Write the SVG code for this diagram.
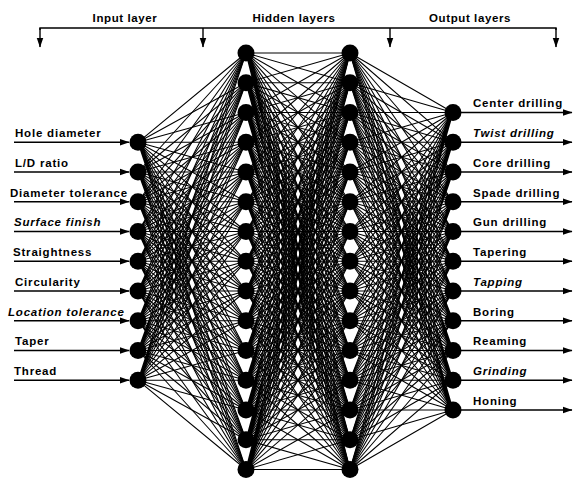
<svg xmlns="http://www.w3.org/2000/svg" width="575" height="479" viewBox="0 0 575 479">
<defs>
<marker id="ah" markerWidth="10" markerHeight="8" refX="9.5" refY="4" orient="auto" markerUnits="userSpaceOnUse"><path d="M0 0.6L10 4L0 7.4z" fill="#000"/></marker>
<style>
.c{fill:none;stroke:#000;stroke-width:1.1;stroke-linejoin:round}
.n{fill:#000}
.a{fill:none;stroke:#000;stroke-width:1.4;marker-end:url(#ah)}
.t{font-family:"Liberation Sans",Arial,sans-serif;font-weight:bold;font-size:11.5px;letter-spacing:0.8px;fill:#000}
.h{font-family:"Liberation Sans",Arial,sans-serif;font-weight:bold;font-size:11.5px;letter-spacing:0.6px;fill:#000;text-anchor:middle}
.i{font-style:italic}
</style>
</defs>
<rect width="575" height="479" fill="#fff"/>
<g id="header">
<path d="M40 30V28H556V30" fill="none" stroke="#000" stroke-width="1.4"/>
<path class="a" d="M40 28V47"/>
<path class="a" d="M203 28V47"/>
<path class="a" d="M390 28V47"/>
<path class="a" d="M556 28V47"/>
<text class="h" x="125" y="22">Input layer</text>
<text class="h" x="294" y="22">Hidden layers</text>
<text class="h" x="470" y="22">Output layers</text>
</g>
<g id="connectors">
<path class="c" d="M246 53L138 142.3 246 82.8 138 142.3 246 112.5 138 142.3 246 142.3 138 142.3 246 172 138 142.3 246 201.8 138 142.3 246 231.5 138 142.3 246 261.3 138 142.3 246 291 138 142.3 246 320.8 138 142.3 246 350.5 138 142.3 246 380.3 138 142.3 246 410 138 142.3 246 439.8 138 142.3 246 469.5"/>
<path class="c" d="M246 53L138 172 246 82.8 138 172 246 112.5 138 172 246 142.3 138 172 246 172 138 172 246 201.8 138 172 246 231.5 138 172 246 261.3 138 172 246 291 138 172 246 320.8 138 172 246 350.5 138 172 246 380.3 138 172 246 410 138 172 246 439.8 138 172 246 469.5"/>
<path class="c" d="M246 53L138 201.8 246 82.8 138 201.8 246 112.5 138 201.8 246 142.3 138 201.8 246 172 138 201.8 246 201.8 138 201.8 246 231.5 138 201.8 246 261.3 138 201.8 246 291 138 201.8 246 320.8 138 201.8 246 350.5 138 201.8 246 380.3 138 201.8 246 410 138 201.8 246 439.8 138 201.8 246 469.5"/>
<path class="c" d="M246 53L138 231.5 246 82.8 138 231.5 246 112.5 138 231.5 246 142.3 138 231.5 246 172 138 231.5 246 201.8 138 231.5 246 231.5 138 231.5 246 261.3 138 231.5 246 291 138 231.5 246 320.8 138 231.5 246 350.5 138 231.5 246 380.3 138 231.5 246 410 138 231.5 246 439.8 138 231.5 246 469.5"/>
<path class="c" d="M246 53L138 261.3 246 82.8 138 261.3 246 112.5 138 261.3 246 142.3 138 261.3 246 172 138 261.3 246 201.8 138 261.3 246 231.5 138 261.3 246 261.3 138 261.3 246 291 138 261.3 246 320.8 138 261.3 246 350.5 138 261.3 246 380.3 138 261.3 246 410 138 261.3 246 439.8 138 261.3 246 469.5"/>
<path class="c" d="M246 53L138 291 246 82.8 138 291 246 112.5 138 291 246 142.3 138 291 246 172 138 291 246 201.8 138 291 246 231.5 138 291 246 261.3 138 291 246 291 138 291 246 320.8 138 291 246 350.5 138 291 246 380.3 138 291 246 410 138 291 246 439.8 138 291 246 469.5"/>
<path class="c" d="M246 53L138 320.8 246 82.8 138 320.8 246 112.5 138 320.8 246 142.3 138 320.8 246 172 138 320.8 246 201.8 138 320.8 246 231.5 138 320.8 246 261.3 138 320.8 246 291 138 320.8 246 320.8 138 320.8 246 350.5 138 320.8 246 380.3 138 320.8 246 410 138 320.8 246 439.8 138 320.8 246 469.5"/>
<path class="c" d="M246 53L138 350.5 246 82.8 138 350.5 246 112.5 138 350.5 246 142.3 138 350.5 246 172 138 350.5 246 201.8 138 350.5 246 231.5 138 350.5 246 261.3 138 350.5 246 291 138 350.5 246 320.8 138 350.5 246 350.5 138 350.5 246 380.3 138 350.5 246 410 138 350.5 246 439.8 138 350.5 246 469.5"/>
<path class="c" d="M246 53L138 380.3 246 82.8 138 380.3 246 112.5 138 380.3 246 142.3 138 380.3 246 172 138 380.3 246 201.8 138 380.3 246 231.5 138 380.3 246 261.3 138 380.3 246 291 138 380.3 246 320.8 138 380.3 246 350.5 138 380.3 246 380.3 138 380.3 246 410 138 380.3 246 439.8 138 380.3 246 469.5"/>

<path class="c" d="M350 53L246 53 350 82.8 246 53 350 112.5 246 53 350 142.3 246 53 350 172 246 53 350 201.8 246 53 350 231.5 246 53 350 261.3 246 53 350 291 246 53 350 320.8 246 53 350 350.5 246 53 350 380.3 246 53 350 410 246 53 350 439.8 246 53 350 469.5"/>
<path class="c" d="M350 53L246 82.8 350 82.8 246 82.8 350 112.5 246 82.8 350 142.3 246 82.8 350 172 246 82.8 350 201.8 246 82.8 350 231.5 246 82.8 350 261.3 246 82.8 350 291 246 82.8 350 320.8 246 82.8 350 350.5 246 82.8 350 380.3 246 82.8 350 410 246 82.8 350 439.8 246 82.8 350 469.5"/>
<path class="c" d="M350 53L246 112.5 350 82.8 246 112.5 350 112.5 246 112.5 350 142.3 246 112.5 350 172 246 112.5 350 201.8 246 112.5 350 231.5 246 112.5 350 261.3 246 112.5 350 291 246 112.5 350 320.8 246 112.5 350 350.5 246 112.5 350 380.3 246 112.5 350 410 246 112.5 350 439.8 246 112.5 350 469.5"/>
<path class="c" d="M350 53L246 142.3 350 82.8 246 142.3 350 112.5 246 142.3 350 142.3 246 142.3 350 172 246 142.3 350 201.8 246 142.3 350 231.5 246 142.3 350 261.3 246 142.3 350 291 246 142.3 350 320.8 246 142.3 350 350.5 246 142.3 350 380.3 246 142.3 350 410 246 142.3 350 439.8 246 142.3 350 469.5"/>
<path class="c" d="M350 53L246 172 350 82.8 246 172 350 112.5 246 172 350 142.3 246 172 350 172 246 172 350 201.8 246 172 350 231.5 246 172 350 261.3 246 172 350 291 246 172 350 320.8 246 172 350 350.5 246 172 350 380.3 246 172 350 410 246 172 350 439.8 246 172 350 469.5"/>
<path class="c" d="M350 53L246 201.8 350 82.8 246 201.8 350 112.5 246 201.8 350 142.3 246 201.8 350 172 246 201.8 350 201.8 246 201.8 350 231.5 246 201.8 350 261.3 246 201.8 350 291 246 201.8 350 320.8 246 201.8 350 350.5 246 201.8 350 380.3 246 201.8 350 410 246 201.8 350 439.8 246 201.8 350 469.5"/>
<path class="c" d="M350 53L246 231.5 350 82.8 246 231.5 350 112.5 246 231.5 350 142.3 246 231.5 350 172 246 231.5 350 201.8 246 231.5 350 231.5 246 231.5 350 261.3 246 231.5 350 291 246 231.5 350 320.8 246 231.5 350 350.5 246 231.5 350 380.3 246 231.5 350 410 246 231.5 350 439.8 246 231.5 350 469.5"/>
<path class="c" d="M350 53L246 261.3 350 82.8 246 261.3 350 112.5 246 261.3 350 142.3 246 261.3 350 172 246 261.3 350 201.8 246 261.3 350 231.5 246 261.3 350 261.3 246 261.3 350 291 246 261.3 350 320.8 246 261.3 350 350.5 246 261.3 350 380.3 246 261.3 350 410 246 261.3 350 439.8 246 261.3 350 469.5"/>
<path class="c" d="M350 53L246 291 350 82.8 246 291 350 112.5 246 291 350 142.3 246 291 350 172 246 291 350 201.8 246 291 350 231.5 246 291 350 261.3 246 291 350 291 246 291 350 320.8 246 291 350 350.5 246 291 350 380.3 246 291 350 410 246 291 350 439.8 246 291 350 469.5"/>
<path class="c" d="M350 53L246 320.8 350 82.8 246 320.8 350 112.5 246 320.8 350 142.3 246 320.8 350 172 246 320.8 350 201.8 246 320.8 350 231.5 246 320.8 350 261.3 246 320.8 350 291 246 320.8 350 320.8 246 320.8 350 350.5 246 320.8 350 380.3 246 320.8 350 410 246 320.8 350 439.8 246 320.8 350 469.5"/>
<path class="c" d="M350 53L246 350.5 350 82.8 246 350.5 350 112.5 246 350.5 350 142.3 246 350.5 350 172 246 350.5 350 201.8 246 350.5 350 231.5 246 350.5 350 261.3 246 350.5 350 291 246 350.5 350 320.8 246 350.5 350 350.5 246 350.5 350 380.3 246 350.5 350 410 246 350.5 350 439.8 246 350.5 350 469.5"/>
<path class="c" d="M350 53L246 380.3 350 82.8 246 380.3 350 112.5 246 380.3 350 142.3 246 380.3 350 172 246 380.3 350 201.8 246 380.3 350 231.5 246 380.3 350 261.3 246 380.3 350 291 246 380.3 350 320.8 246 380.3 350 350.5 246 380.3 350 380.3 246 380.3 350 410 246 380.3 350 439.8 246 380.3 350 469.5"/>
<path class="c" d="M350 53L246 410 350 82.8 246 410 350 112.5 246 410 350 142.3 246 410 350 172 246 410 350 201.8 246 410 350 231.5 246 410 350 261.3 246 410 350 291 246 410 350 320.8 246 410 350 350.5 246 410 350 380.3 246 410 350 410 246 410 350 439.8 246 410 350 469.5"/>
<path class="c" d="M350 53L246 439.8 350 82.8 246 439.8 350 112.5 246 439.8 350 142.3 246 439.8 350 172 246 439.8 350 201.8 246 439.8 350 231.5 246 439.8 350 261.3 246 439.8 350 291 246 439.8 350 320.8 246 439.8 350 350.5 246 439.8 350 380.3 246 439.8 350 410 246 439.8 350 439.8 246 439.8 350 469.5"/>
<path class="c" d="M350 53L246 469.5 350 82.8 246 469.5 350 112.5 246 469.5 350 142.3 246 469.5 350 172 246 469.5 350 201.8 246 469.5 350 231.5 246 469.5 350 261.3 246 469.5 350 291 246 469.5 350 320.8 246 469.5 350 350.5 246 469.5 350 380.3 246 469.5 350 410 246 469.5 350 439.8 246 469.5 350 469.5"/>

<path class="c" d="M350 53L453 112.5 350 82.8 453 112.5 350 112.5 453 112.5 350 142.3 453 112.5 350 172 453 112.5 350 201.8 453 112.5 350 231.5 453 112.5 350 261.3 453 112.5 350 291 453 112.5 350 320.8 453 112.5 350 350.5 453 112.5 350 380.3 453 112.5 350 410 453 112.5 350 439.8 453 112.5 350 469.5"/>
<path class="c" d="M350 53L453 142.3 350 82.8 453 142.3 350 112.5 453 142.3 350 142.3 453 142.3 350 172 453 142.3 350 201.8 453 142.3 350 231.5 453 142.3 350 261.3 453 142.3 350 291 453 142.3 350 320.8 453 142.3 350 350.5 453 142.3 350 380.3 453 142.3 350 410 453 142.3 350 439.8 453 142.3 350 469.5"/>
<path class="c" d="M350 53L453 172 350 82.8 453 172 350 112.5 453 172 350 142.3 453 172 350 172 453 172 350 201.8 453 172 350 231.5 453 172 350 261.3 453 172 350 291 453 172 350 320.8 453 172 350 350.5 453 172 350 380.3 453 172 350 410 453 172 350 439.8 453 172 350 469.5"/>
<path class="c" d="M350 53L453 201.8 350 82.8 453 201.8 350 112.5 453 201.8 350 142.3 453 201.8 350 172 453 201.8 350 201.8 453 201.8 350 231.5 453 201.8 350 261.3 453 201.8 350 291 453 201.8 350 320.8 453 201.8 350 350.5 453 201.8 350 380.3 453 201.8 350 410 453 201.8 350 439.8 453 201.8 350 469.5"/>
<path class="c" d="M350 53L453 231.5 350 82.8 453 231.5 350 112.5 453 231.5 350 142.3 453 231.5 350 172 453 231.5 350 201.8 453 231.5 350 231.5 453 231.5 350 261.3 453 231.5 350 291 453 231.5 350 320.8 453 231.5 350 350.5 453 231.5 350 380.3 453 231.5 350 410 453 231.5 350 439.8 453 231.5 350 469.5"/>
<path class="c" d="M350 53L453 261.3 350 82.8 453 261.3 350 112.5 453 261.3 350 142.3 453 261.3 350 172 453 261.3 350 201.8 453 261.3 350 231.5 453 261.3 350 261.3 453 261.3 350 291 453 261.3 350 320.8 453 261.3 350 350.5 453 261.3 350 380.3 453 261.3 350 410 453 261.3 350 439.8 453 261.3 350 469.5"/>
<path class="c" d="M350 53L453 291 350 82.8 453 291 350 112.5 453 291 350 142.3 453 291 350 172 453 291 350 201.8 453 291 350 231.5 453 291 350 261.3 453 291 350 291 453 291 350 320.8 453 291 350 350.5 453 291 350 380.3 453 291 350 410 453 291 350 439.8 453 291 350 469.5"/>
<path class="c" d="M350 53L453 320.8 350 82.8 453 320.8 350 112.5 453 320.8 350 142.3 453 320.8 350 172 453 320.8 350 201.8 453 320.8 350 231.5 453 320.8 350 261.3 453 320.8 350 291 453 320.8 350 320.8 453 320.8 350 350.5 453 320.8 350 380.3 453 320.8 350 410 453 320.8 350 439.8 453 320.8 350 469.5"/>
<path class="c" d="M350 53L453 350.5 350 82.8 453 350.5 350 112.5 453 350.5 350 142.3 453 350.5 350 172 453 350.5 350 201.8 453 350.5 350 231.5 453 350.5 350 261.3 453 350.5 350 291 453 350.5 350 320.8 453 350.5 350 350.5 453 350.5 350 380.3 453 350.5 350 410 453 350.5 350 439.8 453 350.5 350 469.5"/>
<path class="c" d="M350 53L453 380.3 350 82.8 453 380.3 350 112.5 453 380.3 350 142.3 453 380.3 350 172 453 380.3 350 201.8 453 380.3 350 231.5 453 380.3 350 261.3 453 380.3 350 291 453 380.3 350 320.8 453 380.3 350 350.5 453 380.3 350 380.3 453 380.3 350 410 453 380.3 350 439.8 453 380.3 350 469.5"/>
<path class="c" d="M350 53L453 410 350 82.8 453 410 350 112.5 453 410 350 142.3 453 410 350 172 453 410 350 201.8 453 410 350 231.5 453 410 350 261.3 453 410 350 291 453 410 350 320.8 453 410 350 350.5 453 410 350 380.3 453 410 350 410 453 410 350 439.8 453 410 350 469.5"/>

<path class="a" d="M14 142.3H129"/>
<path class="a" d="M14 172H129"/>
<path class="a" d="M14 201.8H129"/>
<path class="a" d="M14 231.5H129"/>
<path class="a" d="M14 261.3H129"/>
<path class="a" d="M14 291H129"/>
<path class="a" d="M14 320.8H129"/>
<path class="a" d="M14 350.5H129"/>
<path class="a" d="M14 380.3H129"/>
<path class="a" d="M453 112.5H572"/>
<path class="a" d="M453 142.3H572"/>
<path class="a" d="M453 172H572"/>
<path class="a" d="M453 201.8H572"/>
<path class="a" d="M453 231.5H572"/>
<path class="a" d="M453 261.3H572"/>
<path class="a" d="M453 291H572"/>
<path class="a" d="M453 320.8H572"/>
<path class="a" d="M453 350.5H572"/>
<path class="a" d="M453 380.3H572"/>
<path class="a" d="M453 410H572"/>
</g>
<g id="in1"><circle class="n" cx="138" cy="142.3" r="8.5"/><text class="t" x="15" y="137">Hole diameter</text></g>
<g id="in2"><circle class="n" cx="138" cy="172" r="8.5"/><text class="t" x="15" y="166.5">L/D ratio</text></g>
<g id="in3"><circle class="n" cx="138" cy="201.8" r="8.5"/><text class="t" x="10" y="196.5">Diameter tolerance</text></g>
<g id="in4"><circle class="n" cx="138" cy="231.5" r="8.5"/><text class="t i" x="14" y="226">Surface finish</text></g>
<g id="in5"><circle class="n" cx="138" cy="261.3" r="8.5"/><text class="t" x="13" y="256">Straightness</text></g>
<g id="in6"><circle class="n" cx="138" cy="291" r="8.5"/><text class="t" x="15" y="285.5">Circularity</text></g>
<g id="in7"><circle class="n" cx="138" cy="320.8" r="8.5"/><text class="t i" x="8" y="315.5">Location tolerance</text></g>
<g id="in8"><circle class="n" cx="138" cy="350.5" r="8.5"/><text class="t" x="15" y="345">Taper</text></g>
<g id="in9"><circle class="n" cx="138" cy="380.3" r="8.5"/><text class="t" x="14" y="375">Thread</text></g>
<g id="h1n1"><circle class="n" cx="246" cy="53" r="8.5"/></g>
<g id="h1n2"><circle class="n" cx="246" cy="82.8" r="8.5"/></g>
<g id="h1n3"><circle class="n" cx="246" cy="112.5" r="8.5"/></g>
<g id="h1n4"><circle class="n" cx="246" cy="142.3" r="8.5"/></g>
<g id="h1n5"><circle class="n" cx="246" cy="172" r="8.5"/></g>
<g id="h1n6"><circle class="n" cx="246" cy="201.8" r="8.5"/></g>
<g id="h1n7"><circle class="n" cx="246" cy="231.5" r="8.5"/></g>
<g id="h1n8"><circle class="n" cx="246" cy="261.3" r="8.5"/></g>
<g id="h1n9"><circle class="n" cx="246" cy="291" r="8.5"/></g>
<g id="h1n10"><circle class="n" cx="246" cy="320.8" r="8.5"/></g>
<g id="h1n11"><circle class="n" cx="246" cy="350.5" r="8.5"/></g>
<g id="h1n12"><circle class="n" cx="246" cy="380.3" r="8.5"/></g>
<g id="h1n13"><circle class="n" cx="246" cy="410" r="8.5"/></g>
<g id="h1n14"><circle class="n" cx="246" cy="439.8" r="8.5"/></g>
<g id="h1n15"><circle class="n" cx="246" cy="469.5" r="8.5"/></g>
<g id="h2n1"><circle class="n" cx="350" cy="53" r="8.5"/></g>
<g id="h2n2"><circle class="n" cx="350" cy="82.8" r="8.5"/></g>
<g id="h2n3"><circle class="n" cx="350" cy="112.5" r="8.5"/></g>
<g id="h2n4"><circle class="n" cx="350" cy="142.3" r="8.5"/></g>
<g id="h2n5"><circle class="n" cx="350" cy="172" r="8.5"/></g>
<g id="h2n6"><circle class="n" cx="350" cy="201.8" r="8.5"/></g>
<g id="h2n7"><circle class="n" cx="350" cy="231.5" r="8.5"/></g>
<g id="h2n8"><circle class="n" cx="350" cy="261.3" r="8.5"/></g>
<g id="h2n9"><circle class="n" cx="350" cy="291" r="8.5"/></g>
<g id="h2n10"><circle class="n" cx="350" cy="320.8" r="8.5"/></g>
<g id="h2n11"><circle class="n" cx="350" cy="350.5" r="8.5"/></g>
<g id="h2n12"><circle class="n" cx="350" cy="380.3" r="8.5"/></g>
<g id="h2n13"><circle class="n" cx="350" cy="410" r="8.5"/></g>
<g id="h2n14"><circle class="n" cx="350" cy="439.8" r="8.5"/></g>
<g id="h2n15"><circle class="n" cx="350" cy="469.5" r="8.5"/></g>
<g id="out1"><circle class="n" cx="453" cy="112.5" r="8.5"/><text class="t" x="473" y="107">Center drilling</text></g>
<g id="out2"><circle class="n" cx="453" cy="142.3" r="8.5"/><text class="t i" x="473" y="137">Twist drilling</text></g>
<g id="out3"><circle class="n" cx="453" cy="172" r="8.5"/><text class="t" x="473" y="166.5">Core drilling</text></g>
<g id="out4"><circle class="n" cx="453" cy="201.8" r="8.5"/><text class="t" x="473" y="196.5">Spade drilling</text></g>
<g id="out5"><circle class="n" cx="453" cy="231.5" r="8.5"/><text class="t" x="473" y="226">Gun drilling</text></g>
<g id="out6"><circle class="n" cx="453" cy="261.3" r="8.5"/><text class="t" x="473" y="256">Tapering</text></g>
<g id="out7"><circle class="n" cx="453" cy="291" r="8.5"/><text class="t i" x="473" y="285.5">Tapping</text></g>
<g id="out8"><circle class="n" cx="453" cy="320.8" r="8.5"/><text class="t" x="473" y="315.5">Boring</text></g>
<g id="out9"><circle class="n" cx="453" cy="350.5" r="8.5"/><text class="t" x="473" y="345">Reaming</text></g>
<g id="out10"><circle class="n" cx="453" cy="380.3" r="8.5"/><text class="t i" x="473" y="375">Grinding</text></g>
<g id="out11"><circle class="n" cx="453" cy="410" r="8.5"/><text class="t" x="473" y="404.5">Honing</text></g>
</svg>
